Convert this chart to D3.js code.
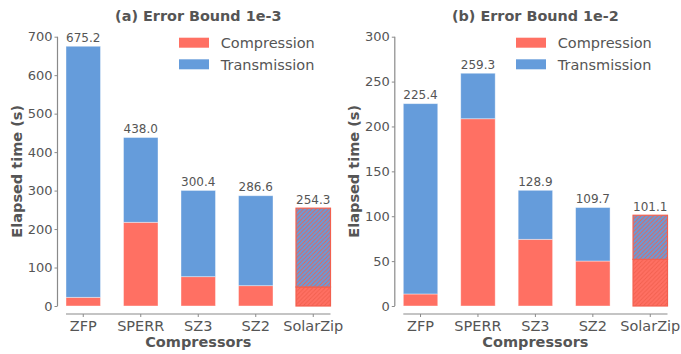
<!DOCTYPE html>
<html>
<head>
<meta charset="utf-8">
<script src="https://cdn.jsdelivr.net/npm/d3@7/dist/d3.min.js"></script>
<style>
  html, body { margin: 0; padding: 0; background: #fff; }
  svg { display: block; font-family: "DejaVu Sans", sans-serif; }
</style>
</head>
<body>
<svg id="chart" width="681" height="354"></svg>
<script>
// Compressors compared in both panels
const categories = ["ZFP", "SPERR", "SZ3", "SZ2", "SolarZip"];

// (a) Error bound 1e-3 : elapsed seconds per stage
const compressionA  = [22.6, 217.6, 76.2, 52.8, 49.4];
const transmissionA = [652.6, 220.4, 224.2, 233.8, 204.9];
const yTicksA = [0, 100, 200, 300, 400, 500, 600, 700];

// (b) Error bound 1e-2 : elapsed seconds per stage
const compressionB  = [13.4, 208.6, 74.3, 50.1, 52.0];
const transmissionB = [212.0, 50.7, 54.6, 59.6, 49.1];
const yTicksB = [0, 50, 100, 150, 200, 250, 300];

const stageNames = ["Compression", "Transmission"];

const COMP = "#ff7063";
const TRANS = "#659cdb";
const HATCH = "#f2604f";
const TEXT = "#555555";
const SPINE = "#8a8a8a";

const svg = d3.select("#chart");

// Diagonal hatch used for the SolarZip stack
const defs = svg.append("defs");
function hatch(id, bg) {
  const p = defs.append("pattern")
    .attr("id", id)
    .attr("patternUnits", "userSpaceOnUse")
    .attr("width", 4.2).attr("height", 4.2);
  p.append("rect").attr("width", 4.2).attr("height", 4.2).attr("fill", bg);
  p.append("path")
    .attr("d", "M-1,1 L1,-1 M0,4.2 L4.2,0 M3.2,5.2 L5.2,3.2")
    .attr("stroke", HATCH).attr("stroke-width", 0.9);
}
hatch("hatchComp", COMP);
hatch("hatchTrans", TRANS);

function panel(cfg) {
  const g = svg.append("g");
  const x = d3.scaleBand()
    .domain(categories)
    .range(cfg.xRange)
    .paddingInner(0.4)
    .paddingOuter(0);
  const y = d3.scaleLinear().domain(cfg.yDomain).range([306, 36.7]);

  const spineX = cfg.xRange[0] - 8.5;
  const axisY = 314;

  // y axis, offset to the left of the bars
  const yAxis = d3.axisLeft(y).tickValues(cfg.yTicks).tickSize(3).tickPadding(2)
    .tickFormat(d3.format("d"));
  const ya = g.append("g").attr("transform", `translate(${spineX},0)`).call(yAxis);
  ya.select(".domain").attr("stroke", SPINE).attr("stroke-width", 1.2)
    .attr("d", `M0,${y(cfg.yDomain[0])}V${y(cfg.yDomain[1])}`);
  ya.selectAll(".tick line").attr("stroke", SPINE);
  ya.selectAll(".tick text").attr("fill", TEXT).attr("font-size", 13)
    .attr("font-family", "DejaVu Sans");

  // x axis, offset below the bars
  const xAxis = d3.axisBottom(x).tickSize(3).tickPadding(3.5);
  const xa = g.append("g").attr("transform", `translate(0,${axisY})`).call(xAxis);
  xa.select(".domain").attr("stroke", SPINE).attr("stroke-width", 1.2)
    .attr("d", `M${cfg.xRange[0]},0H${cfg.xRange[1]}`);
  xa.selectAll(".tick line").attr("stroke", SPINE);
  xa.selectAll(".tick text").attr("fill", TEXT).attr("font-size", 14.5)
    .attr("font-family", "DejaVu Sans");

  // stacked bars
  const rows = categories.map((c, i) => ({
    c, comp: cfg.comp[i], trans: cfg.trans[i], total: cfg.comp[i] + cfg.trans[i]
  }));
  const isHatched = d => d.c === "SolarZip";

  g.selectAll("rect.comp").data(rows).join("rect")
    .attr("class", "comp")
    .attr("x", d => x(d.c)).attr("width", x.bandwidth())
    .attr("y", d => y(d.comp)).attr("height", d => y(0) - y(d.comp))
    .attr("fill", d => isHatched(d) ? "url(#hatchComp)" : COMP)
    .attr("stroke", d => isHatched(d) ? HATCH : "rgba(255,255,255,0.5)")
    .attr("stroke-width", d => isHatched(d) ? 1.2 : 0.8);

  g.selectAll("rect.trans").data(rows).join("rect")
    .attr("class", "trans")
    .attr("x", d => x(d.c)).attr("width", x.bandwidth())
    .attr("y", d => y(d.total)).attr("height", d => y(d.comp) - y(d.total))
    .attr("fill", d => isHatched(d) ? "url(#hatchTrans)" : TRANS)
    .attr("stroke", d => isHatched(d) ? HATCH : "rgba(255,255,255,0.5)")
    .attr("stroke-width", d => isHatched(d) ? 1.2 : 0.8);

  // total labels
  g.selectAll("text.total").data(rows).join("text")
    .attr("class", "total")
    .attr("x", d => x(d.c) + x.bandwidth() / 2)
    .attr("y", d => y(d.total) - 4.5)
    .attr("text-anchor", "middle")
    .attr("font-size", 12).attr("fill", TEXT)
    .text(d => d.total.toFixed(1));

  const cx = (cfg.xRange[0] + cfg.xRange[1]) / 2;

  // title
  g.append("text").attr("x", cx).attr("y", 20.8)
    .attr("text-anchor", "middle").attr("font-size", 14.4).attr("font-weight", "bold")
    .attr("fill", TEXT).text(cfg.title);

  // axis titles
  g.append("text").attr("x", cx).attr("y", 347)
    .attr("text-anchor", "middle").attr("font-size", 14.5).attr("font-weight", "bold")
    .attr("fill", TEXT).text("Compressors");
  g.append("text")
    .attr("transform", `translate(${spineX - 36},171.3) rotate(-90)`)
    .attr("text-anchor", "middle").attr("font-size", 14.5).attr("font-weight", "bold")
    .attr("fill", TEXT).text("Elapsed time (s)");

  // legend
  const lg = g.append("g").attr("transform", `translate(${cfg.legendX},0)`);
  const colors = [COMP, TRANS];
  stageNames.forEach((name, i) => {
    const top = 37.7 + i * 21.6;
    lg.append("rect").attr("x", 0).attr("y", top).attr("width", 30).attr("height", 10)
      .attr("fill", colors[i]);
    lg.append("text").attr("x", 41.7).attr("y", top + 10.5)
      .attr("font-size", 14.5).attr("fill", TEXT).text(name);
  });
}

panel({
  xRange: [66, 330.5], yDomain: [0, 700], yTicks: yTicksA,
  comp: compressionA, trans: transmissionA,
  title: "(a) Error Bound 1e-3", legendX: 179
});
panel({
  xRange: [403.3, 667.5], yDomain: [0, 300], yTicks: yTicksB,
  comp: compressionB, trans: transmissionB,
  title: "(b) Error Bound 1e-2", legendX: 516
});
</script>
</body>
</html>
